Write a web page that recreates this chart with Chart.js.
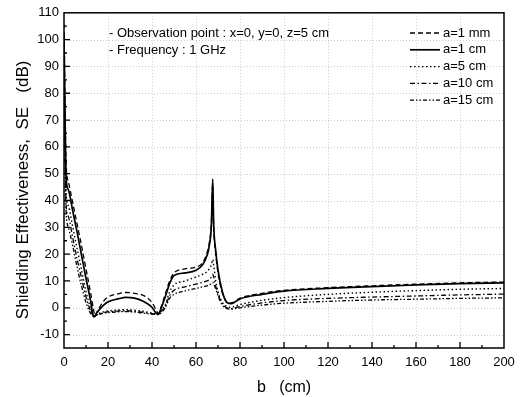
<!DOCTYPE html>
<html>
<head>
<meta charset="utf-8">
<script src="https://cdn.jsdelivr.net/npm/chart.js@4/dist/chart.umd.min.js"></script>
<style>
html, body { margin: 0; padding: 0; background: #fff; }
</style>
</head>
<body>
<canvas id="myChart" width="526" height="397"></canvas>
<script>
const ctx = document.getElementById('myChart').getContext('2d');

const bCm = [0, 0.5, 1, 2, 4, 6, 8, 10, 12, 13.5,
    14, 15, 18, 20, 25, 28, 32, 36, 40, 42,
    43, 44, 46, 48, 50, 55, 60, 63, 65, 66,
    67, 67.6, 68, 69, 70, 72, 74, 76, 80, 90,
    100, 120, 140, 160, 180, 200];

// SE (dB) for each aperture size a
const se1mm = [106, 75, 53, 47, 39, 31, 23, 14.5, 6, -1,
    -3, -1.5, 2.5, 4, 5.3, 5.7, 5.4, 4.6, 2, -1,
    -2.2, 0, 5, 10, 13, 14.5, 15.2, 16.8, 20.5, 24,
    32, 46, 31, 20, 13, 5.5, 2.2, 1.8, 3.6, 5.4,
    6.5, 7.5, 8.2, 8.8, 9.3, 9.6];
const se1cm = [102, 70, 48, 44, 36, 28, 19.5, 11, 3, -3.4,
    -3.2, -1.8, 1, 2.2, 3.4, 3.9, 3.6, 2.4, 0.2, -2.1,
    -2.3, -0.5, 4, 9, 12, 13, 14, 16, 19.5, 23,
    31, 48, 32, 21, 14, 6, 2, 1.5, 3.3, 5,
    6.2, 7.2, 7.9, 8.5, 9, 9.3];
const se5cm = [95, 62, 42, 38, 30, 22, 14, 6, 0, -3,
    -3, -2.5, -1.5, -1.2, -0.8, -0.7, -0.9, -1.3, -2, -2.3,
    -2.4, -1, 1, 6, 8.5, 10, 11.5, 12.5, 13.5, 14.5,
    16, 18, 16, 10, 6, 2, 0.5, 0.2, 1.2, 2.8,
    3.8, 5, 5.8, 6.4, 6.9, 7.2];
const se10cm = [90, 57, 38, 34, 26, 18, 11, 4, -1, -3,
    -3, -2.6, -1.8, -1.5, -1.2, -1.1, -1.3, -1.7, -2.2, -2.4,
    -2.4, -1.5, 0.5, 4.5, 6.5, 7.8, 8.8, 9.5, 10, 10.5,
    11.5, 12.5, 11.5, 8, 5, 1.5, 0, -0.3, 0.5, 1.8,
    2.7, 3.5, 4, 4.4, 4.8, 5.1];
const se15cm = [85, 52, 35, 30, 23, 15, 8, 2, -2, -3.2,
    -3.1, -2.7, -2, -1.8, -1.5, -1.4, -1.6, -2, -2.4, -2.5,
    -2.5, -2, 0, 3.5, 5, 6.3, 7.2, 7.8, 8.2, 8.5,
    9, 9.5, 9, 7, 4.5, 1, -0.3, -0.5, 0, 1,
    1.7, 2.4, 2.9, 3.2, 3.5, 3.7];

const seriesLabels = ['a=1 mm', 'a=1 cm', 'a=5 cm', 'a=10 cm', 'a=15 cm'];
const seriesValues = [se1mm, se1cm, se5cm, se10cm, se15cm];
const dashes = [[5, 3], [], [1.5, 2.5], [5, 2.5, 1.5, 2.5], [4, 2, 1.5, 2, 1.5, 2]];
const widths = [1.3, 1.7, 1.4, 1.3, 1.3];

const notes = ['- Observation point : x=0, y=0, z=5 cm', '- Frequency : 1 GHz'];

const FONT = "'Liberation Sans', Arial, sans-serif";

const datasets = seriesValues.map(function(vals, k) {
    return {
        label: seriesLabels[k],
        data: bCm.map(function(b, i) { return {x: b, y: vals[i]}; }),
        borderColor: '#000',
        borderWidth: widths[k],
        borderDash: dashes[k],
        pointRadius: 0,
        cubicInterpolationMode: 'monotone',
        fill: false
    };
});

// faint dotted grid, inward ticks, frame, legend and notes
const decor = {
    id: 'decor',
    beforeDatasetsDraw(chart) {
        const c = chart.ctx, a = chart.chartArea;
        const x = chart.scales.x, y = chart.scales.y;
        c.save();
        c.strokeStyle = 'rgba(0,0,0,0.2)';
        c.lineWidth = 1;
        c.setLineDash([1, 2]);
        c.beginPath();
        for (let v = 20; v < 200; v += 20) {
            const px = Math.round(x.getPixelForValue(v)) + 0.5;
            c.moveTo(px, a.top); c.lineTo(px, a.bottom);
        }
        for (let v = -10; v < 110; v += 10) {
            const py = Math.round(y.getPixelForValue(v)) + 0.5;
            c.moveTo(a.left, py); c.lineTo(a.right, py);
        }
        c.stroke();
        c.restore();
    },
    afterDatasetsDraw(chart) {
        const c = chart.ctx, a = chart.chartArea;
        const x = chart.scales.x, y = chart.scales.y;
        c.save();
        c.strokeStyle = '#000';
        c.setLineDash([]);
        c.lineWidth = 1.5;
        c.strokeRect(a.left, a.top, a.right - a.left, a.bottom - a.top);
        c.lineWidth = 1.3;
        c.beginPath();
        for (let v = 10; v < 200; v += 10) {
            const px = x.getPixelForValue(v);
            const len = v % 20 === 0 ? 6 : 3;
            c.moveTo(px, a.bottom); c.lineTo(px, a.bottom - len);
        }
        for (let v = -10; v < 110; v += 5) {
            const py = y.getPixelForValue(v);
            const len = v % 10 === 0 ? 6 : 3;
            c.moveTo(a.left, py); c.lineTo(a.left + len, py);
        }
        c.stroke();

        // legend
        c.font = '13px ' + FONT;
        c.fillStyle = '#000';
        c.textBaseline = 'middle';
        chart.data.datasets.forEach(function(ds, i) {
            const ly = 33 + i * 16.8;
            c.lineWidth = ds.borderWidth;
            c.setLineDash(ds.borderDash);
            c.beginPath();
            c.moveTo(410, ly); c.lineTo(440, ly);
            c.stroke();
            c.fillText(ds.label, 443, ly);
        });

        // notes
        notes.forEach(function(t, i) {
            c.fillText(t, 109, 33 + i * 17);
        });
        c.restore();
    }
};

const config = {
    type: 'line',
    data: {datasets: datasets},
    options: {
        responsive: false,
        animation: false,
        devicePixelRatio: 1,
        layout: {padding: {top: 12, right: 22, left: 0, bottom: 0}},
        plugins: {
            legend: {display: false},
            tooltip: {enabled: false}
        },
        scales: {
            x: {
                type: 'linear',
                min: 0,
                max: 200,
                grid: {display: false, drawTicks: false},
                border: {display: false},
                ticks: {stepSize: 20, padding: 7, color: '#000', font: {family: FONT, size: 13}},
                title: {display: true, text: 'b   (cm)', color: '#000',
                    font: {family: FONT, size: 16}, padding: {top: 0, bottom: 0}},
                afterFit(scale) { scale.height = 49; }
            },
            y: {
                min: -15,
                max: 110,
                grid: {display: false, drawTicks: false},
                border: {display: false},
                ticks: {
                    stepSize: 10,
                    includeBounds: false,
                    autoSkip: false,
                    padding: 5,
                    color: '#000',
                    font: {family: FONT, size: 13}
                },
                // trailing spaces nudge the centred title down a little
                title: {display: true, text: 'Shielding Effectiveness,  SE   (dB)    ', color: '#000',
                    font: {family: FONT, size: 17}, padding: {top: 13, bottom: 0}},
                afterFit(scale) { scale.width = 64; }
            }
        }
    },
    plugins: [decor]
};

const myChart = new Chart(ctx, config);
</script>
</body>
</html>
